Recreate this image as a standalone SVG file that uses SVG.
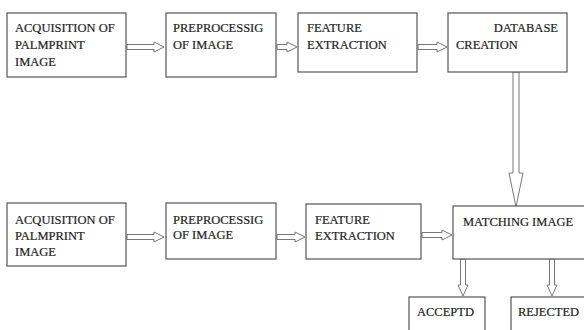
<svg xmlns="http://www.w3.org/2000/svg" width="584" height="330" viewBox="0 0 584 330">
<defs>
<style>
.box{fill:#fff;stroke:#555;stroke-width:1.2}
.t{font-family:"Liberation Serif",serif;font-size:12.5px;fill:#1e1e1e;stroke:#1e1e1e;stroke-width:0.2}
.arr{fill:#fff;stroke:#777;stroke-width:1}
</style>
</defs>
<rect width="584" height="330" fill="#fff"/>
<g id="connectors">
<polygon class="arr" points="127,44.5 154,44.5 154,42 164,47 154,52 154,49.5 127,49.5"/>
<polygon class="arr" points="277,44.5 287,44.5 287,42 297,47 287,52 287,49.5 277,49.5"/>
<polygon class="arr" points="418,44.5 437,44.5 437,42 447,47 437,52 437,49.5 418,49.5"/>
<polygon class="arr" points="513,72 519,72 519,173 523,173 516,207 509,173 513,173"/>
<polygon class="arr" points="127,234.5 154,234.5 154,232 164,237 154,242 154,239.5 127,239.5"/>
<polygon class="arr" points="277,234.5 295,234.5 295,232 305,237 295,242 295,239.5 277,239.5"/>
<polygon class="arr" points="422,232.5 442,232.5 442,230 452,235 442,240 442,237.5 422,237.5"/>
<polygon class="arr" points="460.5,259 465.5,259 465.5,285 468,285 463,296 458,285 460.5,285"/>
<polygon class="arr" points="549.5,259 554.5,259 554.5,285 557,285 552,296 547,285 549.5,285"/>
</g>
<g id="acq1"><rect class="box" x="7" y="13" width="119" height="64"/>
<text class="t" x="15" y="32">ACQUISITION OF</text><text class="t" x="15" y="49">PALMPRINT</text><text class="t" x="15" y="66">IMAGE</text></g>
<g id="pre1"><rect class="box" x="166" y="13" width="110" height="64"/>
<text class="t" x="173" y="32">PREPROCESSIG</text><text class="t" x="173" y="49">OF IMAGE</text></g>
<g id="feat1"><rect class="box" x="298" y="13" width="119" height="59"/>
<text class="t" x="307" y="32">FEATURE</text><text class="t" x="307" y="49">EXTRACTION</text></g>
<g id="db"><rect class="box" x="448" y="13" width="119" height="59"/>
<text class="t" x="558" y="32" text-anchor="end">DATABASE</text><text class="t" x="456" y="49">CREATION</text></g>
<g id="acq2"><rect class="box" x="7" y="203" width="119" height="63"/>
<text class="t" x="15" y="224">ACQUISITION OF</text><text class="t" x="15" y="240">PALMPRINT</text><text class="t" x="15" y="256">IMAGE</text></g>
<g id="pre2"><rect class="box" x="166" y="203" width="110" height="56"/>
<text class="t" x="173" y="224">PREPROCESSIG</text><text class="t" x="173" y="239">OF IMAGE</text></g>
<g id="feat2"><rect class="box" x="306" y="204" width="115" height="55"/>
<text class="t" x="315" y="224">FEATURE</text><text class="t" x="315" y="240">EXTRACTION</text></g>
<g id="match"><rect class="box" x="453" y="206" width="140" height="53"/>
<text class="t" x="463" y="226">MATCHING IMAGE</text></g>
<g id="acc"><rect class="box" x="409" y="297" width="76" height="40"/>
<text class="t" x="417" y="316">ACCEPTD</text></g>
<g id="rej"><rect class="box" x="511" y="297" width="80" height="40"/>
<text class="t" x="518" y="316">REJECTED</text></g>
</svg>
